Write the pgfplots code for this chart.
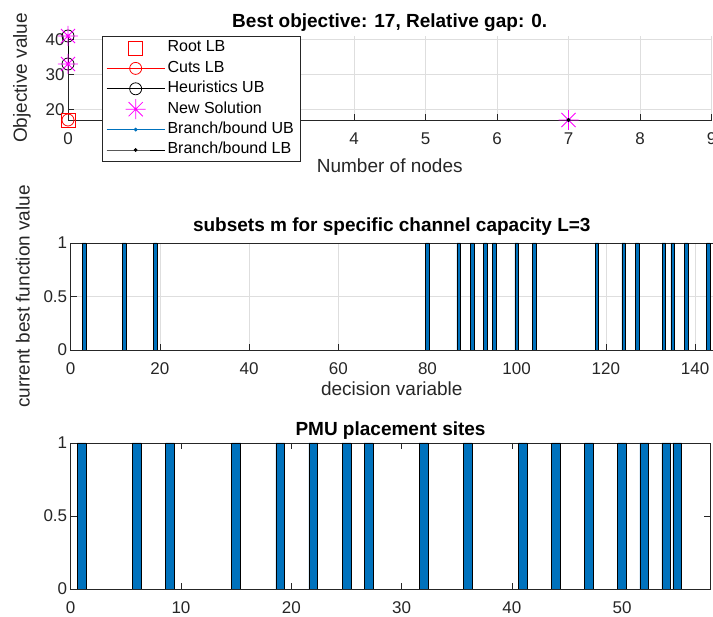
\documentclass[border=0pt]{standalone}
\usepackage{pgfplots}
\pgfplotsset{compat=1.18}
\usepackage{fontspec}
\setmainfont{Liberation Sans}

\definecolor{mblue}{RGB}{0,114,189}
\definecolor{axgray}{RGB}{38,38,38}
\definecolor{gridgray}{RGB}{222,222,222}
\definecolor{mmag}{RGB}{255,0,255}
\definecolor{mred}{RGB}{255,0,0}

% MATLAB-like '*' marker (plus and cross)
\pgfdeclareplotmark{mstar}{%
  \pgfpathmoveto{\pgfqpoint{-\pgfplotmarksize}{0pt}}\pgfpathlineto{\pgfqpoint{\pgfplotmarksize}{0pt}}%
  \pgfpathmoveto{\pgfqpoint{0pt}{-\pgfplotmarksize}}\pgfpathlineto{\pgfqpoint{0pt}{\pgfplotmarksize}}%
  \pgfpathmoveto{\pgfqpoint{-.707\pgfplotmarksize}{-.707\pgfplotmarksize}}\pgfpathlineto{\pgfqpoint{.707\pgfplotmarksize}{.707\pgfplotmarksize}}%
  \pgfpathmoveto{\pgfqpoint{-.707\pgfplotmarksize}{.707\pgfplotmarksize}}\pgfpathlineto{\pgfqpoint{.707\pgfplotmarksize}{-.707\pgfplotmarksize}}%
  \pgfusepathqstroke}

\pgfplotsset{
  mstyle/.style={
    scale only axis,
    anchor=north west,
    axis line style={axgray, line width=0.7pt},
    tick style={axgray, line width=0.7pt},
    tick align=inside,
    major tick length=6pt,
    tick label style={font=\fontsize{17}{17}\selectfont, text=axgray},
    xticklabel style={yshift=-9pt},
    /pgf/number format/assume math mode=true,
    label style={font=\fontsize{19}{19}\selectfont, text=axgray},
    title style={font=\fontsize{19}{19}\selectfont\bfseries, at={(axis description cs:0.5,1)}, anchor=center},
    grid style={gridgray, line width=0.6pt},
  },
  barstyle/.style={ybar, bar width=0.8, fill=mblue, draw=black, line width=0.6pt},
}

\begin{document}
\begin{tikzpicture}
\path[use as bounding box] (0,0) rectangle (713pt,-617pt);

% ---- branch and bound progress
\begin{axis}[mstyle,
  at={(68pt,-36pt)}, width=643.5pt, height=84pt,
  xmin=0, xmax=9, ymin=17, ymax=41,
  xtick={0,1,...,9}, ytick={20,30,40},
  grid=major, clip=false,
  axis x line*=bottom, axis y line*=left, axis line style={-},
  title={Best objective: 17, Relative gap: 0.},
  title style={yshift=7pt},
  xlabel={Number of nodes}, ylabel={Objective value},
  xlabel style={at={(axis description cs:0.5,-0.55)}, anchor=center},
  ylabel style={at={(axis description cs:-0.0715,0.5)}, anchor=center},
  legend image code/.code={\draw[mark repeat=2,mark phase=2,#1] plot coordinates {(0pt,0pt) (29pt,0pt) (58pt,0pt)};},
  legend style={at={(axis description cs:0.0528,1)}, anchor=north west,
    draw=axgray, line width=0.6pt, fill=white,
    font=\fontsize{16}{16}\selectfont,
    inner xsep=4pt, inner ysep=1.5pt, cells={anchor=west},
    nodes={inner xsep=2.5pt, inner ysep=2.2pt, text height=12pt, text depth=4pt}},
]
\addplot[mred, only marks, mark=square, mark size=7pt, line width=0.6pt] coordinates {(0,17)};
\addlegendentry{Root LB}
\addplot[mred, mark=o, mark size=6pt, line width=0.8pt] coordinates {(0,17)};
\addlegendentry{Cuts LB}
\addplot[black, mark=o, mark size=6pt, line width=0.8pt] coordinates {(0,41) (0,33)};
\addlegendentry{Heuristics UB}
\addplot[mmag, only marks, mark=mstar, mark size=10pt, line width=0.8pt] coordinates {(0,41) (0,33) (7,17)};
\addlegendentry{New Solution}
\addplot[mblue, mark=*, mark size=1.5pt, line width=0.8pt] coordinates {(7,17)};
\addlegendentry{Branch/bound UB}
\addplot[black, mark=*, mark size=1.5pt, line width=0.8pt] coordinates {(7,17)};
\addlegendentry{Branch/bound LB}
\end{axis}

% ---- subsets m
\begin{axis}[mstyle,
  at={(70.7pt,-243pt)}, width=642.2pt, height=107pt,
  xmin=0, xmax=144, ymin=0, ymax=1,
  xtick={0,20,...,140}, ytick={0,0.5,1},
  grid=major, tick pos=left,
  title={subsets m for specific channel capacity L=3},
  title style={yshift=10pt},
  xlabel={decision variable}, ylabel={current best function value},
  xlabel style={at={(axis description cs:0.5,-0.36)}, anchor=center},
  ylabel style={at={(axis description cs:-0.0747,0.5)}, anchor=center},
]
\addplot[barstyle] coordinates {
  (3,1) (12,1) (19,1) (80,1) (87,1) (90,1) (93,1) (95,1) (100,1)
  (104,1) (118,1) (124,1) (127,1) (133,1) (135,1) (138,1) (143,1)
};
\end{axis}

% ---- PMU placement sites
\begin{axis}[mstyle,
  at={(70.7pt,-443pt)}, width=639.7pt, height=146pt,
  xmin=0, xmax=58, ymin=0, ymax=1,
  xtick={0,10,...,50}, ytick={0,0.5,1},
  title={PMU placement sites},
  title style={yshift=6pt},
]
\addplot[barstyle] coordinates {
  (1,1) (6,1) (9,1) (15,1) (19,1) (22,1) (25,1) (27,1) (32,1)
  (36,1) (41,1) (44,1) (47,1) (50,1) (52,1) (54,1) (55,1)
};
\end{axis}
\end{tikzpicture}
\end{document}
